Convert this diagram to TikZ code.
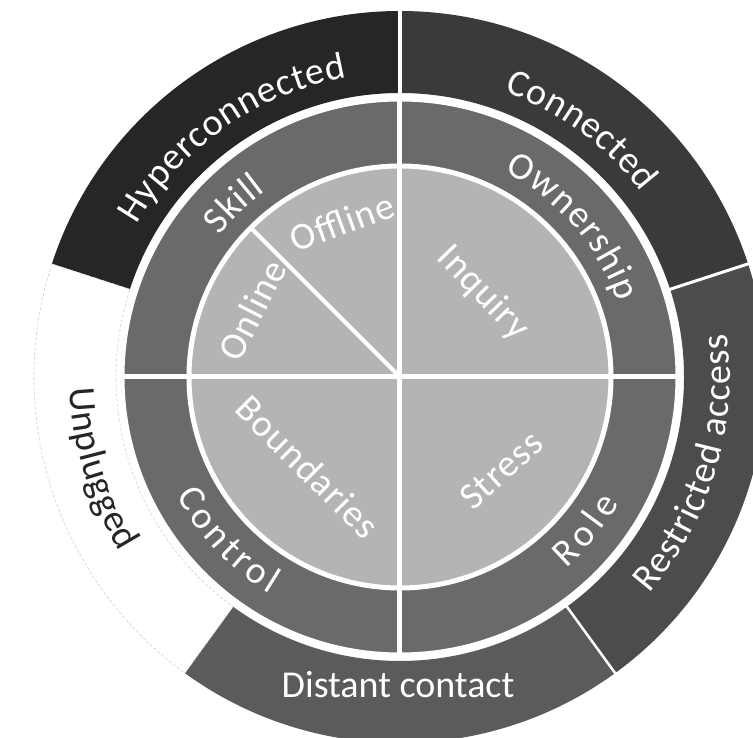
\documentclass[tikz,border=0pt]{standalone}
\usepackage{fontspec}
\setmainfont{Carlito}
\newfontfamily\labfont[LetterSpace=3]{Carlito}
\usetikzlibrary{decorations.text}

\definecolor{hypercol}{RGB}{38,38,38}
\definecolor{conncol}{RGB}{58,58,58}
\definecolor{restcol}{RGB}{76,76,76}
\definecolor{distcol}{RGB}{91,91,91}
\definecolor{ringcol}{RGB}{106,106,106}
\definecolor{corecol}{RGB}{180,180,180}

\begin{document}
\begin{tikzpicture}[
    lab/.style={text=white, font=\labfont\fontsize{38}{44}\selectfont, inner sep=0pt},
    arclab/.style 2 args={decorate, decoration={text along path, text align={fit to path},
        text color=#1, text={|\rmfamily\fontsize{38}{44}\selectfont|#2}}},
    sep/.style={white, line width=#1}]
\fill[white] (-400pt,-361pt) rectangle (353pt,377pt);
\useasboundingbox (-400pt,-361pt) rectangle (353pt,377pt);
\coordinate (c) at (0,0);

% outer ring
\foreach \a/\b/\col in {90/162/hypercol, 18/90/conncol, -54/18/restcol, 234/306/distcol}
  \fill[\col] (\a:366pt) arc[start angle=\a, end angle=\b, radius=366pt]
    -- (\b:284pt) arc[start angle=\b, end angle=\a, radius=284pt] -- cycle;
\filldraw[fill=white, draw=black!18, densely dashed, line width=0.6pt]
    (162:366pt) arc[start angle=162, end angle=234, radius=366pt]
    -- (234:284pt) arc[start angle=234, end angle=162, radius=284pt] -- cycle;
\draw[sep=4pt] (c) ++(90:280pt) -- ++(90:90pt);
\draw[sep=3pt] (c) ++(18:280pt) -- ++(18:90pt);
\draw[sep=2.5pt] (c) ++(-54:280pt) -- ++(-54:90pt);

% middle ring and core
\fill[ringcol] (c) circle[radius=277pt];
\fill[corecol] (c) circle[radius=211pt];
\draw[sep=3pt] (c) circle[radius=277pt];
\draw[sep=5pt] (c) circle[radius=211pt];
\draw[sep=5pt] (-278pt,0) -- (278pt,0);
\draw[sep=5pt] (0,-278pt) -- (0,278pt);
\draw[sep=4pt] (c) -- (135:211pt);

% outer labels
\path[arclab={white}{Hyperconnected}] (150:304pt) arc[start angle=150, end angle=100, radius=304pt];
\path[arclab={white}{Connected}] (70:304pt) arc[start angle=70, end angle=37.5, radius=304pt];
\path[arclab={white}{Restricted access}] (-41:330pt) arc[start angle=-41, end angle=7.5, radius=330pt];
\path[arclab={black!85}{Unplugged}] (182:330pt) arc[start angle=182, end angle=212, radius=330pt];
\node[lab, font=\rmfamily\fontsize{38}{44}\selectfont] (distant) at (-2pt,-308pt) {Distant contact};

% middle labels
\path[arclab={white}{Skill}] (142:229pt) arc[start angle=142, end angle=126, radius=229pt];
\path[arclab={white}{Ownership}] (63:230pt) arc[start angle=63, end angle=19, radius=230pt];
\path[arclab={white}{Control}] (208:253pt) arc[start angle=208, end angle=239, radius=253pt];
\path[arclab={white}{Role}] (-49:253pt) arc[start angle=-49, end angle=-30, radius=253pt];

% core labels
\node[lab, rotate=-46] (inquiry) at (83pt,84pt) {Inquiry};
\node[lab, rotate=20] (offline) at (-58pt,155pt) {Offline};
\node[lab, rotate=63] (online) at (-148pt,67pt) {Online};
\node[lab, rotate=-45] (boundaries) at (-92pt,-90pt) {Boundaries};
\node[lab, rotate=42] (stress) at (101pt,-93pt) {Stress};
\end{tikzpicture}
\end{document}
